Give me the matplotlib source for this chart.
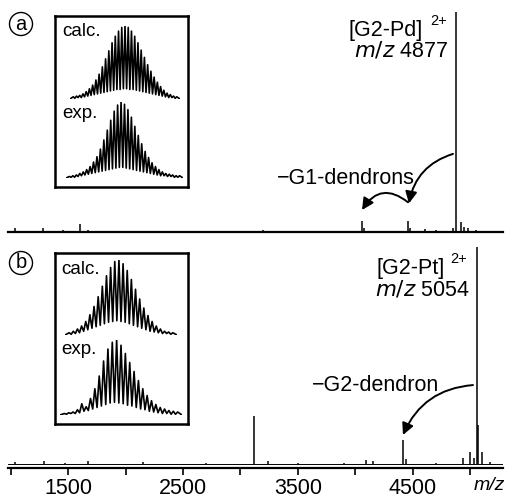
import numpy as np
import matplotlib
matplotlib.use("Agg")
import matplotlib.pyplot as plt
from matplotlib.ticker import FixedLocator, NullFormatter

plt.rcParams['font.family'] = ['Liberation Sans', 'DejaVu Sans']

# main spectra: peak positions (m/z) and relative intensities
a_mz = [1040, 1283, 1457, 1604, 1674, 2300, 2900, 3196, 3600, 4057, 4070,
        4457, 4470, 4604, 4700, 4850, 4877, 4917, 4943, 4978, 5050, 5150]
a_int = [0.02, 0.02, 0.01, 0.035, 0.01, 0.005, 0.005, 0.01, 0.005, 0.05, 0.02,
         0.05, 0.02, 0.014, 0.008, 0.02, 1.0, 0.045, 0.025, 0.018, 0.01, 0.006]

b_mz = [1040, 1290, 1470, 1670, 2150, 2700, 3120, 3239, 3500, 3900, 4091,
        4152, 4413, 4439, 4700, 4935, 4996, 5030, 5054, 5065, 5100, 5170]
b_int = [0.01, 0.015, 0.005, 0.015, 0.01, 0.005, 0.22, 0.014, 0.005, 0.006, 0.02,
         0.014, 0.11, 0.025, 0.006, 0.028, 0.055, 0.03, 1.0, 0.18, 0.055, 0.01]

a_peak_label = "4877"
b_peak_label = "5054"

# isotope patterns (inset): peak maxima and valley minima, relative
a_calc_peaks = [0.03, 0.04, 0.05, 0.07, 0.10, 0.14, 0.19, 0.26, 0.34, 0.44, 0.55,
                0.66, 0.77, 0.86, 0.93, 0.98, 1.00, 0.98, 0.93, 0.86, 0.77, 0.67,
                0.57, 0.47, 0.38, 0.30, 0.23, 0.17, 0.12, 0.08, 0.06, 0.04, 0.03]
a_calc_valleys = [0.01, 0.02, 0.02, 0.03, 0.04, 0.05, 0.06, 0.07, 0.08, 0.09, 0.10,
                  0.11, 0.12, 0.13, 0.13, 0.14, 0.14, 0.13, 0.13, 0.12, 0.11, 0.10,
                  0.09, 0.08, 0.07, 0.06, 0.05, 0.04, 0.03, 0.02, 0.02, 0.01]

a_exp_peaks = [0.02, 0.03, 0.04, 0.06, 0.08, 0.11, 0.15, 0.21, 0.28, 0.38, 0.50,
               0.63, 0.76, 0.88, 0.96, 1.00, 0.97, 0.90, 0.80, 0.68, 0.56, 0.45,
               0.35, 0.27, 0.20, 0.15, 0.11, 0.08, 0.06, 0.05, 0.04, 0.03, 0.03]
a_exp_valleys = [0.01, 0.01, 0.02, 0.03, 0.04, 0.05, 0.06, 0.07, 0.08, 0.09, 0.10,
                 0.11, 0.12, 0.13, 0.14, 0.14, 0.13, 0.12, 0.11, 0.10, 0.09, 0.08,
                 0.07, 0.06, 0.05, 0.04, 0.03, 0.03, 0.02, 0.02, 0.01, 0.01]

b_calc_peaks = [0.03, 0.05, 0.08, 0.12, 0.18, 0.27, 0.38, 0.51, 0.65, 0.79, 0.90,
                0.98, 1.00, 0.95, 0.86, 0.74, 0.61, 0.48, 0.36, 0.26, 0.18, 0.12,
                0.08, 0.05, 0.04, 0.03]
b_calc_valleys = [0.01, 0.02, 0.03, 0.05, 0.07, 0.09, 0.11, 0.13, 0.15, 0.17, 0.18,
                  0.19, 0.18, 0.17, 0.15, 0.13, 0.11, 0.09, 0.07, 0.05, 0.04, 0.03,
                  0.02, 0.02, 0.01]

b_exp_peaks = [0.02, 0.03, 0.04, 0.07, 0.15, 0.11, 0.22, 0.35, 0.52, 0.72, 0.88,
               0.97, 1.00, 0.93, 0.82, 0.70, 0.58, 0.46, 0.35, 0.26, 0.19, 0.14,
               0.10, 0.08, 0.06, 0.05, 0.04]
b_exp_valleys = [0.01, 0.02, 0.02, 0.03, 0.05, 0.06, 0.08, 0.10, 0.12, 0.14, 0.16,
                 0.17, 0.16, 0.15, 0.13, 0.12, 0.10, 0.08, 0.07, 0.05, 0.04, 0.03,
                 0.02, 0.02, 0.01, 0.01]

W, H = 508, 498
XMIN, XMAX = 978, 5283
FS = 15.5

fig = plt.figure(figsize=(W / 100, H / 100), dpi=100)


def fx(px):
    return px / W


def fy(py):
    return 1 - py / H


def spectrum_axes(top, bottom, ymin):
    ax = fig.add_axes([fx(8), fy(bottom), fx(503) - fx(8), fy(top) - fy(bottom)])
    ax.set_xlim(XMIN, XMAX)
    ax.set_ylim(ymin, 1.0)
    for s in ['top', 'right', 'left']:
        ax.spines[s].set_visible(False)
    ax.spines['bottom'].set_linewidth(1.6)
    ax.set_yticks([])
    return ax


arrow_props = dict(arrowstyle='-|>,head_length=0.7,head_width=0.35', color='black',
                   lw=1.4, shrinkA=0, shrinkB=0)

# panel a
ax1 = spectrum_axes(12, 232, 0)
ax1.vlines(a_mz, 0, a_int, color='black', lw=1.1)
ax1.set_xticks([])
ax1.text(4587, 0.914, "[G2-Pd]", ha='right', va='center', fontsize=FS)
ax1.text(4648, 0.96, "2+", ha='left', va='center', fontsize=10.5)
ax1.text(4804, 0.823, r"$\it{m/z}$ " + a_peak_label, ha='right', va='center', fontsize=FS)
ax1.text(3317, 0.245, "\u2212G1-dendrons", ha='left', va='center', fontsize=FS)
ax1.annotate("", xy=(4465, 0.13), xytext=(4848, 0.355),
             arrowprops=dict(arrow_props, connectionstyle='arc3,rad=0.3'))
ax1.annotate("", xy=(4057, 0.10), xytext=(4457, 0.135),
             arrowprops=dict(arrow_props, connectionstyle='arc3,rad=0.55'))

# panel b
ax2 = spectrum_axes(247, 468, -0.018)
ax2.axhline(0, color='black', lw=0.7)
ax2.vlines(b_mz, 0, b_int, color='black', lw=1.1)
ax2.xaxis.set_major_locator(FixedLocator([1500, 2500, 3500, 4500]))
ax2.xaxis.set_minor_locator(FixedLocator([1000, 2000, 3000, 4000, 5000]))
ax2.xaxis.set_minor_formatter(NullFormatter())
ax2.tick_params(axis='x', which='both', direction='out', length=5, width=1.2,
                labelsize=FS, pad=2)
ax2.text(4778, 0.903, "[G2-Pt]", ha='right', va='center', fontsize=FS)
ax2.text(4822, 0.945, "2+", ha='left', va='center', fontsize=10.5)
ax2.text(4996, 0.80, r"$\it{m/z}$ " + b_peak_label, ha='right', va='center', fontsize=FS)
ax2.text(3622, 0.364, "\u2212G2-dendron", ha='left', va='center', fontsize=FS)
ax2.annotate("", xy=(4413, 0.134), xytext=(5022, 0.364),
             arrowprops=dict(arrow_props, connectionstyle='arc3,rad=0.3'))
fig.text(fx(505), fy(485), "m/z", style='italic', ha='right', va='center', fontsize=14)

# circled panel letters
for letter, py in [("a", 24), ("b", 263)]:
    fig.text(fx(21), fy(py), letter, ha='center', va='center', fontsize=14.5,
             bbox=dict(boxstyle='circle,pad=0.1', fc='white', ec='black', lw=1.0))


# insets
def inset_frame(left, top, right, bottom):
    ax = fig.add_axes([fx(left), fy(bottom), fx(right) - fx(left), fy(top) - fy(bottom)])
    ax.set_xticks([])
    ax.set_yticks([])
    for s in ax.spines.values():
        s.set_linewidth(1.8)
    return ax


def isotope_trace(left, top, right, bottom, peaks, valleys):
    ax = fig.add_axes([fx(left), fy(bottom), fx(right) - fx(left), fy(top) - fy(bottom)])
    ax.set_axis_off()
    ax.patch.set_alpha(0)
    n = len(peaks)
    xs = [-1.0]
    ys = [0.0]
    for i in range(n):
        xs.append(i)
        ys.append(peaks[i])
        if i < len(valleys):
            xs.append(i + 0.5)
            ys.append(valleys[i])
    xs.append(n)
    ys.append(0.0)
    ax.plot(xs, ys, color='black', lw=1.2)
    ax.set_xlim(-1, n)
    ax.set_ylim(0, 1.0)


inset_frame(55, 16, 188, 187)
isotope_trace(70, 26, 180, 99, a_calc_peaks, a_calc_valleys)
isotope_trace(66, 102, 183, 178, a_exp_peaks, a_exp_valleys)
fig.text(fx(62), fy(32), "calc.", ha='left', va='center', fontsize=13.5)
fig.text(fx(62), fy(114), "exp.", ha='left', va='center', fontsize=13.5)

inset_frame(55, 253, 188, 424)
isotope_trace(65, 260, 177, 335, b_calc_peaks, b_calc_valleys)
isotope_trace(60, 340, 182, 415, b_exp_peaks, b_exp_valleys)
fig.text(fx(61), fy(269), "calc.", ha='left', va='center', fontsize=13.5)
fig.text(fx(61), fy(350), "exp.", ha='left', va='center', fontsize=13.5)

fig.savefig("out.png", dpi=100)
